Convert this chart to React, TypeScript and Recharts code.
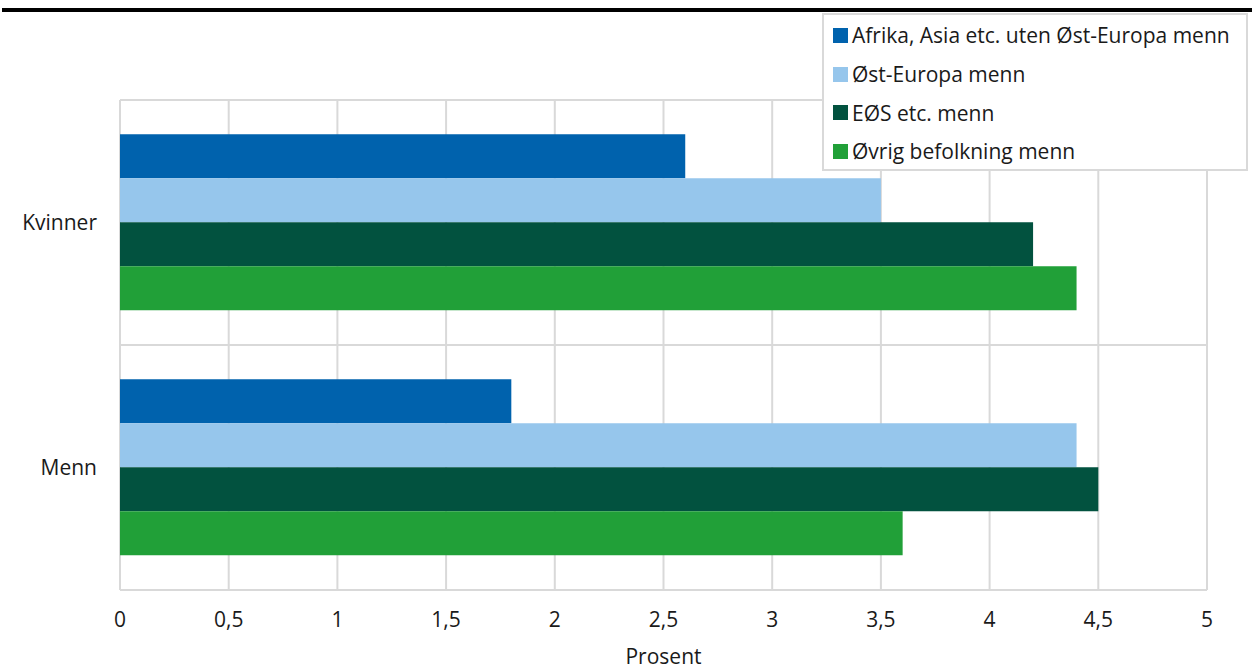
import React from 'react';
import {
  BarChart, Bar, XAxis, YAxis, CartesianGrid, Legend,
} from 'recharts';

const categories = ['Kvinner', 'Menn'];
const seriesNames = [
  'Afrika, Asia etc. uten Øst-Europa menn',
  'Øst-Europa menn',
  'EØS etc. menn',
  'Øvrig befolkning menn',
];
const afrikaAsia = [2.6, 1.8];
const ostEuropa = [3.5, 4.4];
const eos = [4.2, 4.5];
const ovrig = [4.4, 3.6];
const xTicks = [0, 0.5, 1, 1.5, 2, 2.5, 3, 3.5, 4, 4.5, 5];

const COLORS = ['#0062ad', '#96c6ec', '#02523f', '#21a038'];
const FONT = '"Open Sans", "Noto Sans", sans-serif';
const TEXT = '#1a1a1a';
const FS = 21;

const data = categories.map((name, i) => ({
  name,
  s0: afrikaAsia[i],
  s1: ostEuropa[i],
  s2: eos[i],
  s3: ovrig[i],
}));

function LegendBox() {
  return (
    <div
      style={{
        width: 426,
        height: 158,
        boxSizing: 'border-box',
        border: '2px solid #d9d9d9',
        background: '#fff',
        padding: '1px 0 0 9px',
        fontFamily: FONT,
        fontSize: FS,
        color: TEXT,
      }}
    >
      {seriesNames.map((n, i) => (
        <div key={n} style={{ display: 'flex', alignItems: 'center', height: 38.7, whiteSpace: 'nowrap' }}>
          <span style={{ width: 15, height: 15, background: COLORS[i], marginRight: 4, display: 'inline-block' }} />
          <span>{n}</span>
        </div>
      ))}
    </div>
  );
}

export default function App() {
  return (
    <div style={{ position: 'absolute', left: 0, top: 0, width: 1252, height: 671, background: '#fff' }}>
      {/* top rule */}
      <div style={{ position: 'absolute', left: 2, top: 8, width: 1250, height: 4, background: '#000' }} />
      <BarChart
        width={1252}
        height={671}
        data={data}
        layout="vertical"
        margin={{ top: 100, right: 45, bottom: 0, left: 0 }}
        barCategoryGap="14%"
        barGap={0}
      >
        <CartesianGrid
          stroke="#d9d9d9"
          strokeWidth={2}
          horizontalCoordinatesGenerator={({ offset }: any) => [
            offset.top,
            offset.top + offset.height / 2,
            offset.top + offset.height,
          ]}
        />
        <XAxis
          type="number"
          domain={[0, 5]}
          ticks={xTicks}
          height={81}
          tickFormatter={(v: number) => String(v).replace('.', ',')}
          tick={{ fontFamily: FONT, fontSize: FS, fill: TEXT }}
          tickLine={false}
          tickSize={0}
          tickMargin={22}
          axisLine={{ stroke: '#d9d9d9', strokeWidth: 2 }}
          label={{ value: 'Prosent', position: 'insideBottom', offset: 7, style: { fontFamily: FONT, fontSize: FS, fill: TEXT } }}
        />
        <YAxis
          type="category"
          dataKey="name"
          width={120}
          tick={{ fontFamily: FONT, fontSize: FS, fill: TEXT }}
          tickLine={false}
          tickSize={0}
          tickMargin={23}
          axisLine={false}
        />
        <Legend
          layout="vertical"
          align="center"
          verticalAlign="middle"
          wrapperStyle={{ top: 13, left: 822, width: 'auto' }}
          content={() => <LegendBox />}
        />
        {['s0', 's1', 's2', 's3'].map((k, i) => (
          <Bar key={k} dataKey={k} name={seriesNames[i]} fill={COLORS[i]} isAnimationActive={false} />
        ))}
      </BarChart>
    </div>
  );
}
